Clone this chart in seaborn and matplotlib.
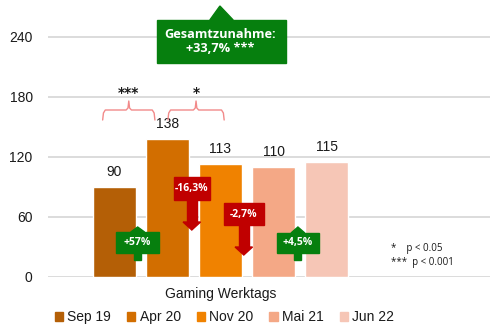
import matplotlib
matplotlib.use("Agg")
import matplotlib.pyplot as plt
from matplotlib.patches import Polygon, Rectangle
import seaborn as sns
import pandas as pd

# Survey waves and mean values
periods = ["Sep 19", "Apr 20", "Nov 20", "Mai 21", "Jun 22"]
values = [90, 138, 113, 110, 115]
colors = ["#B45F06", "#D26E00", "#F08200", "#F4A886", "#F6C6B6"]

# Change between consecutive waves
change_labels = ["+57%", "-16,3%", "-2,7%", "+4,5%"]
change_up = [True, False, False, True]

# Significance brackets between waves
sig_marks = ["***", "*"]

total_label = "Gesamtzunahme:\n+33,7% ***"
xlabel = "Gaming Werktags"
yticks = [0, 60, 120, 180, 240]

sns.set_theme(style="white")
plt.rcParams["font.family"] = ["Liberation Sans", "DejaVu Sans"]

GREEN = "#067F0E"
RED = "#C00000"
BRACE = "#F28A8A"
TXT = "#1a1a1a"

fig = plt.figure(figsize=(4.9, 3.29), dpi=100)
ax = fig.add_axes([48 / 490, 52 / 329, 442 / 490, 271 / 329])

df = pd.DataFrame({"period": periods, "value": values})
sns.barplot(data=df, x="period", y="value", hue="period", palette=colors,
            width=0.8, saturation=1, legend=False, ax=ax, zorder=3)

for cont in ax.containers:
    ax.bar_label(cont, fmt="%d", padding=6, fontsize=10, color=TXT)

ax.set_xlim(-1.25, 7.08)
ax.set_ylim(0, 271)
ax.set_yticks(yticks)
ax.set_xticks([])
ax.set_xlabel("")
ax.set_ylabel("")
ax.yaxis.grid(True, color="#D9D9D9", lw=1.3, zorder=0)
ax.tick_params(axis="y", length=0, pad=11, labelsize=10, labelcolor=TXT)
for s in ax.spines.values():
    s.set_visible(False)

ax.text(2, -17, xlabel, ha="center", va="center", fontsize=10, color=TXT)

# Legend below the chart
handles = [Rectangle((0, 0), 1, 1, color=c) for c in colors]
fig.legend(handles, periods, loc="center", bbox_to_anchor=(0.458, 0.036),
           ncol=5, frameon=False, handlelength=0.6, handleheight=0.6,
           handletextpad=0.3, columnspacing=1.15, fontsize=10,
           labelcolor=TXT)


def arrow_callout(xc, box_lo, box_hi, half_w, up, tip, label, color):
    # box with an arrow head on one side and a stem on the other
    stem_w = 0.065
    head_w = 0.13 if up else 0.165
    if up:
        head = [(xc - head_w, box_hi), (xc, tip), (xc + head_w, box_hi)]
        ax.add_patch(Polygon(head, closed=True, color=color, zorder=5, clip_on=False))
        ax.add_patch(Rectangle((xc - stem_w, box_lo - 7), 2 * stem_w, 7,
                               color=color, zorder=5, clip_on=False))
    else:
        base = tip + 8
        ax.add_patch(Rectangle((xc - 0.095, base), 0.19, box_lo - base,
                               color=color, zorder=5, clip_on=False))
        head = [(xc - head_w, base), (xc, tip), (xc + head_w, base)]
        ax.add_patch(Polygon(head, closed=True, color=color, zorder=5, clip_on=False))
    ax.add_patch(Rectangle((xc - half_w, box_lo), 2 * half_w, box_hi - box_lo,
                           color=color, zorder=5, clip_on=False))
    ax.text(xc, (box_lo + box_hi) / 2, label, ha="center", va="center",
            color="white", fontsize=7.5, fontweight="bold", family="Open Sans",
            zorder=6)


callout_geom = [
    (0.44, 24, 45, 0.40, 50),
    (1.46, 77, 100, 0.34, 47),
    (2.44, 52, 74, 0.38, 22),
    (3.46, 24, 44, 0.40, 50),
]
for (xc, lo, hi, hw, tip), lab, up in zip(callout_geom, change_labels, change_up):
    arrow_callout(xc, lo, hi, hw, up, tip, lab, GREEN if up else RED)

# Curly brackets with significance stars
brace_geom = [(-0.22, 0.765), (1.01, 2.07)]
for (x0, x1), mark in zip(brace_geom, sig_marks):
    xm = (x0 + x1) / 2
    lo, mid, top = 157, 167, 176
    d = 0.05
    xs = [x0, x0 + d * 0.3, x0 + d, xm - d, xm - d * 0.3, xm,
          xm + d * 0.3, xm + d, x1 - d, x1 - d * 0.3, x1]
    ys = [lo, mid - 3, mid, mid, mid + 2, top, mid + 2, mid, mid, mid - 3, lo]
    ax.plot(xs, ys, color=BRACE, lw=1, zorder=4, clip_on=False)
    ax.text(xm, top + 1, mark, ha="center", va="bottom", fontsize=10,
            fontweight="bold", family="DejaVu Sans", color=TXT)

# Overall change box
tx0, tx1, tlo, thi = 0.80, 3.24, 214, 257
ax.add_patch(Rectangle((tx0, tlo), tx1 - tx0, thi - tlo, color=GREEN,
                       zorder=5, clip_on=False))
ax.add_patch(Polygon([(1.80, thi), (1.99, 271), (2.24, thi)], closed=True,
                     color=GREEN, zorder=5, clip_on=False))
ax.text(2.0, (tlo + thi) / 2, total_label, ha="center", va="center",
        color="white", fontsize=9.2, fontweight="bold", family="Open Sans",
        linespacing=1.2, zorder=6)

# Significance legend
ax.text(5.22, 28, "*    p < 0.05", ha="left", va="center", fontsize=7,
        family="Open Sans", color=TXT)
ax.text(5.22, 15, "***  p < 0.001", ha="left", va="center", fontsize=7,
        family="Open Sans", color=TXT)

fig.savefig("out.png", dpi=100)
